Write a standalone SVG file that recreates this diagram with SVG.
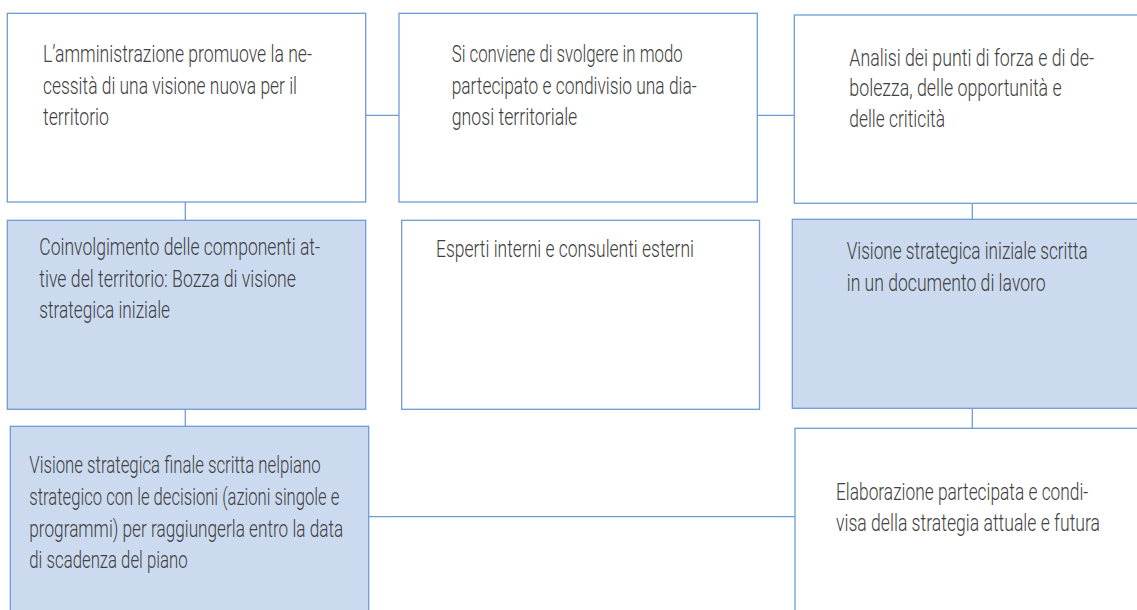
<svg xmlns="http://www.w3.org/2000/svg" width="1137" height="610" viewBox="0 0 1137 610">
<style>
.box{stroke:#6f9cd6;stroke-width:1.3;}
.w{fill:#ffffff;}
.b{fill:#cbdaef;}
.c{stroke:#6f9cd6;stroke-width:1.3;fill:none;}
text{font-family:Roboto,"Liberation Sans",sans-serif;font-weight:300;font-size:23.5px;fill:#404040;}
</style>
<rect width="1137" height="610" fill="#ffffff"/>
<g id="connectors">
<line class="c" x1="365.7" y1="115.3" x2="399" y2="115.3"/>
<line class="c" x1="757.3" y1="115.3" x2="794.3" y2="115.3"/>
<line class="c" x1="185.3" y1="202" x2="185.3" y2="220.3"/>
<line class="c" x1="185.3" y1="409.3" x2="185.3" y2="426.3"/>
<line class="c" x1="972.3" y1="203.3" x2="972.3" y2="219.3"/>
<line class="c" x1="972.3" y1="408.3" x2="972.3" y2="428.3"/>
<line class="c" x1="368.7" y1="516.7" x2="795" y2="516.7"/>
</g>
<g id="n1">
<rect class="box w" x="7.3" y="13.3" width="358.4" height="188.7"/>
<text x="43" y="62" textLength="269" lengthAdjust="spacingAndGlyphs">L’amministrazione promuove la ne-</text>
<text x="43" y="93.5" textLength="254" lengthAdjust="spacingAndGlyphs">cessità di una visione nuova per il</text>
<text x="43" y="124.5" textLength="66" lengthAdjust="spacingAndGlyphs">territorio</text>
</g>
<g id="n2">
<rect class="box w" x="399" y="13.3" width="358.3" height="188.7"/>
<text x="451.7" y="62" textLength="231" lengthAdjust="spacingAndGlyphs">Si conviene di svolgere in modo</text>
<text x="451.7" y="93.5" textLength="245" lengthAdjust="spacingAndGlyphs">partecipato e condivisio una dia-</text>
<text x="451.7" y="124.5" textLength="125.6" lengthAdjust="spacingAndGlyphs">gnosi territoriale</text>
</g>
<g id="n3">
<rect class="box w" x="794.3" y="15" width="343.7" height="188.3"/>
<text x="849.3" y="65.5" textLength="244.7" lengthAdjust="spacingAndGlyphs">Analisi dei punti di forza e di de-</text>
<text x="849.3" y="96" textLength="212.4" lengthAdjust="spacingAndGlyphs">bolezza, delle opportunità e</text>
<text x="849.3" y="126.5" textLength="95.7" lengthAdjust="spacingAndGlyphs">delle criticità</text>
</g>
<g id="n4">
<rect class="box b" x="7.3" y="220.3" width="358.4" height="189"/>
<text x="39.3" y="255" textLength="280.7" lengthAdjust="spacingAndGlyphs">Coinvolgimento delle componenti at-</text>
<text x="39.3" y="286.7" textLength="256.7" lengthAdjust="spacingAndGlyphs">tive del territorio: Bozza di visione</text>
<text x="39.3" y="318.3" textLength="130.7" lengthAdjust="spacingAndGlyphs">strategica iniziale</text>
</g>
<g id="n5">
<rect class="box w" x="401.7" y="220.3" width="357.8" height="189"/>
<text x="436" y="257" textLength="258" lengthAdjust="spacingAndGlyphs">Esperti interni e consulenti esterni</text>
</g>
<g id="n6">
<rect class="box b" x="792.3" y="219.3" width="345.7" height="189"/>
<text x="846.7" y="259.3" textLength="241" lengthAdjust="spacingAndGlyphs">Visione strategica iniziale scritta</text>
<text x="846.7" y="291" textLength="199" lengthAdjust="spacingAndGlyphs">in un documento di lavoro</text>
</g>
<g id="n7">
<rect class="box b" x="10.3" y="426.3" width="358.4" height="185"/>
<text x="29.3" y="473" textLength="291.4" lengthAdjust="spacingAndGlyphs">Visione strategica finale scritta nelpiano</text>
<text x="29.3" y="505" textLength="310" lengthAdjust="spacingAndGlyphs">strategico con le decisioni (azioni singole e</text>
<text x="29.3" y="536.7" textLength="314" lengthAdjust="spacingAndGlyphs">programmi) per raggiungerla entro la data</text>
<text x="29.3" y="568.3" textLength="158.4" lengthAdjust="spacingAndGlyphs">di scadenza del piano</text>
</g>
<g id="n8">
<rect class="box w" x="795" y="428.3" width="343" height="183"/>
<text x="836" y="500" textLength="252.3" lengthAdjust="spacingAndGlyphs">Elaborazione partecipata e condi-</text>
<text x="836" y="531" textLength="264" lengthAdjust="spacingAndGlyphs">visa della strategia attuale e futura</text>
</g>
</svg>
